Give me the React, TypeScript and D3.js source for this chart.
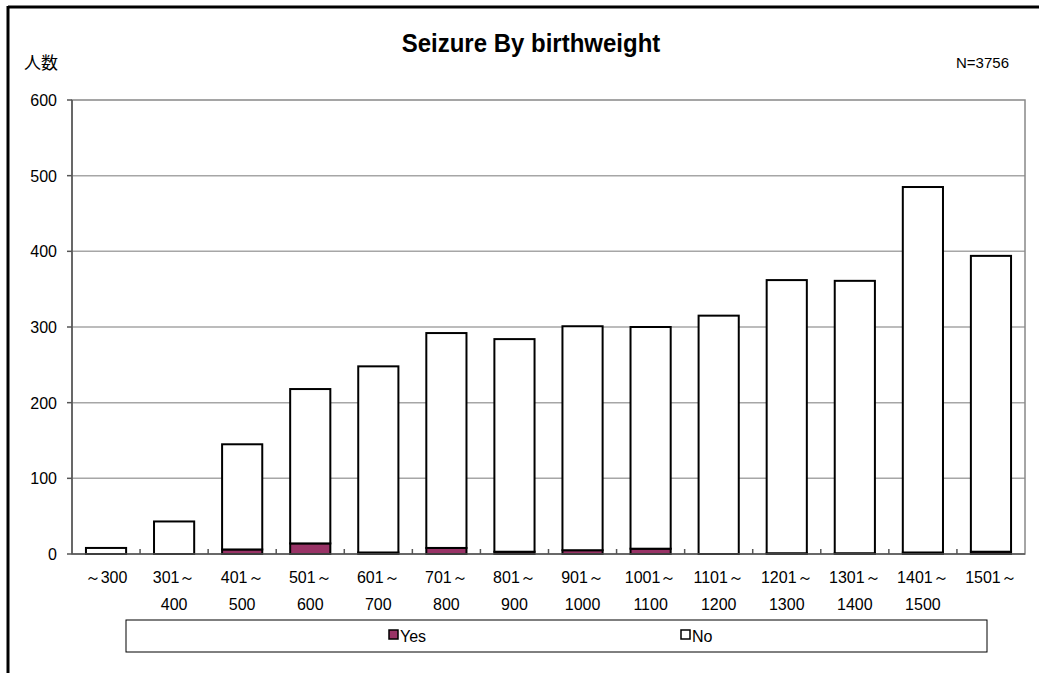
import * as d3 from 'd3';

const categories = ['～300', '301～|400', '401～|500', '501～|600', '601～|700', '701～|800', '801～|900', '901～|1000', '1001～|1100', '1101～|1200', '1201～|1300', '1301～|1400', '1401～|1500', '1501～'];
const yesValues = [0, 0, 6, 14, 2, 8, 3, 5, 7, 0, 1, 1, 2, 3];
const totalValues = [8, 43, 145, 218, 248, 292, 284, 301, 300, 315, 362, 361, 485, 394];
const noValues = totalValues.map((t, i) => t - yesValues[i]);
const yTicks = [0, 100, 200, 300, 400, 500, 600];
const seriesNames = ['Yes', 'No'];
const seriesColors = ['#993366', '#ffffff'];

const W = 1039;
const H = 673;
const left = 72;
const right = 1025;
const top = 100;
const bottom = 554;
const font = '"Liberation Sans", Arial, sans-serif';

export default function App() {
  const x = d3.scaleBand<number>().domain(d3.range(categories.length)).range([left, right]).paddingInner(0.41).paddingOuter(0.205);
  const y = d3.scaleLinear().domain([0, 600]).range([bottom, top]);
  const stack = d3.stack<number>().keys(['0', '1']).value((i, k) => (k === '0' ? yesValues[i] : noValues[i]));
  const layers = stack(d3.range(categories.length));
  const boundaries = d3.range(categories.length + 1).map((i) => left + (i * (right - left)) / categories.length);

  return (
    <svg width={W} height={H} style={{ position: 'absolute', left: 0, top: 0, background: '#fff' }}>
      {/* outer frame, clipped at right/bottom */}
      <line x1={8} x2={W} y1={7} y2={7} stroke="#000" strokeWidth={3} />
      <line x1={8} x2={8} y1={6} y2={H} stroke="#000" strokeWidth={3} />

      <text x={531} y={52} textAnchor="middle" fontFamily={font} fontWeight="bold" fontSize={24} transform="translate(531,52) scale(1,1.1) translate(-531,-52)">Seizure By birthweight</text>
      <text x={24} y={69} fontFamily='"Noto Sans CJK JP", sans-serif' fontSize={17}>人数</text>
      <text x={1009} y={68} textAnchor="end" fontFamily={font} fontSize={15}>N=3756</text>

      {/* gridlines */}
      {yTicks.slice(1, -1).map((t) => (
        <line key={t} x1={left} x2={right} y1={y(t)} y2={y(t)} stroke="#a6a6a6" strokeWidth={1.5} />
      ))}
      {/* plot frame */}
      <rect x={left} y={top} width={right - left} height={bottom - top} fill="none" stroke="#888" strokeWidth={1.5} />

      {/* y axis */}
      <line x1={left} x2={left} y1={top} y2={bottom} stroke="#555" strokeWidth={1.5} />
      {yTicks.map((t) => (
        <g key={t}>
          <line x1={left - 5} x2={left} y1={y(t)} y2={y(t)} stroke="#555" strokeWidth={1.5} />
          <text x={57} y={y(t) + 6} textAnchor="end" fontFamily={font} fontSize={16}>{t}</text>
        </g>
      ))}

      {/* bars */}
      {layers.map((layer, si) =>
        layer.map((d, i) => {
          const h = y(d[0]) - y(d[1]);
          if (h <= 0) return null;
          return (
            <rect key={`${si}-${i}`} x={x(i)} y={y(d[1])} width={x.bandwidth()} height={h}
              fill={seriesColors[si]} stroke="#000" strokeWidth={2} />
          );
        })
      )}

      {/* x axis */}
      <line x1={left} x2={right} y1={bottom} y2={bottom} stroke="#555" strokeWidth={1.5} />
      {boundaries.slice(1, -1).map((b, i) => (
        <line key={i} x1={b} x2={b} y1={bottom - 5} y2={bottom} stroke="#555" strokeWidth={1.5} />
      ))}
      {categories.map((c, i) => {
        const parts = c.split('|');
        const cx = x(i)! + x.bandwidth() / 2;
        return (
          <g key={c}>
            {parts.map((p, j) => (
              <text key={j} x={cx} y={583 + j * 27} textAnchor="middle" fontFamily={font} fontSize={16}>{p}</text>
            ))}
          </g>
        );
      })}

      {/* legend */}
      <rect x={126} y={620} width={861} height={32} fill="#fff" stroke="#000" strokeWidth={1} />
      {seriesNames.map((n, i) => {
        const lx = i === 0 ? 389 : 681;
        return (
          <g key={n}>
            <rect x={lx} y={630} width={9} height={9} fill={seriesColors[i]} stroke="#000" strokeWidth={1.5} />
            <text x={lx + 11} y={642} fontFamily={font} fontSize={16}>{n}</text>
          </g>
        );
      })}
    </svg>
  );
}
